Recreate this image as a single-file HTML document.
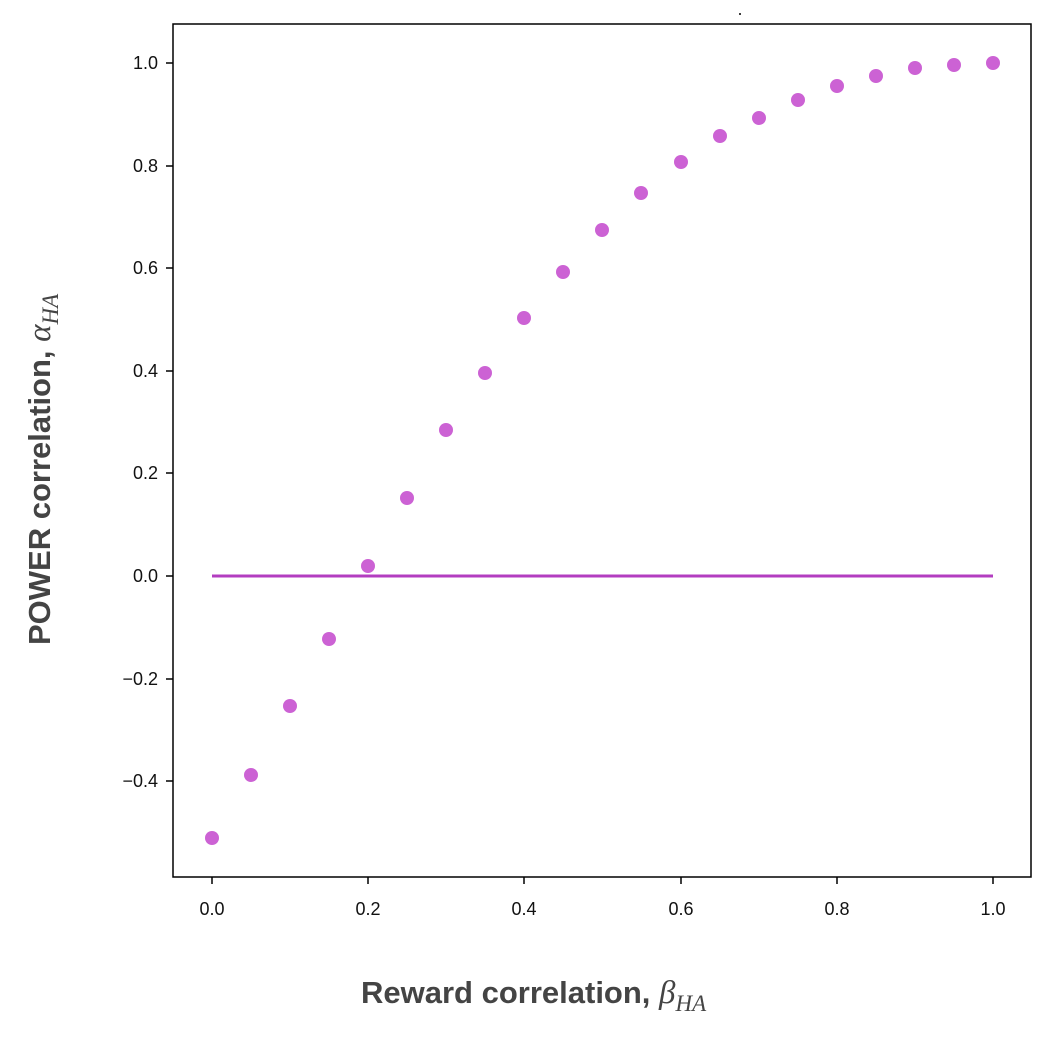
<!DOCTYPE html>
<html><head><meta charset="utf-8"><style>body{margin:0;background:#fff}</style></head><body>
<svg width="1062" height="1032" xmlns="http://www.w3.org/2000/svg" font-family="Liberation Sans, sans-serif">
<rect x="0" y="0" width="1062" height="1032" fill="#fff"/>
<circle cx="740" cy="14" r="1" fill="#000"/>
<rect x="173" y="24" width="858" height="853" fill="none" stroke="#000" stroke-width="1.5"/>
<g stroke="#000" stroke-width="1.5">
<line x1="212" y1="877" x2="212" y2="884"/><line x1="368" y1="877" x2="368" y2="884"/><line x1="524" y1="877" x2="524" y2="884"/><line x1="681" y1="877" x2="681" y2="884"/><line x1="837" y1="877" x2="837" y2="884"/><line x1="993" y1="877" x2="993" y2="884"/>
<line x1="166" y1="63" x2="173" y2="63"/><line x1="166" y1="166" x2="173" y2="166"/><line x1="166" y1="268" x2="173" y2="268"/><line x1="166" y1="371" x2="173" y2="371"/><line x1="166" y1="473" x2="173" y2="473"/><line x1="166" y1="576" x2="173" y2="576"/><line x1="166" y1="679" x2="173" y2="679"/><line x1="166" y1="781" x2="173" y2="781"/>
</g>
<g font-size="18" fill="#111" text-anchor="middle">
<text x="212" y="915">0.0</text><text x="368" y="915">0.2</text><text x="524" y="915">0.4</text><text x="681" y="915">0.6</text><text x="837" y="915">0.8</text><text x="993" y="915">1.0</text>
</g>
<g font-size="18" fill="#111" text-anchor="end">
<text x="158" y="69">1.0</text><text x="158" y="172">0.8</text><text x="158" y="274">0.6</text><text x="158" y="377">0.4</text><text x="158" y="479">0.2</text><text x="158" y="582">0.0</text><text x="158" y="685">−0.2</text><text x="158" y="787">−0.4</text>
</g>
<line x1="212" y1="576" x2="993" y2="576" stroke="#b33dc0" stroke-width="3"/>
<g fill="#cc62d4">
<circle cx="212" cy="838" r="7"/><circle cx="251" cy="775" r="7"/><circle cx="290" cy="706" r="7"/><circle cx="329" cy="639" r="7"/><circle cx="368" cy="566" r="7"/><circle cx="407" cy="498" r="7"/><circle cx="446" cy="430" r="7"/><circle cx="485" cy="373" r="7"/><circle cx="524" cy="318" r="7"/><circle cx="563" cy="272" r="7"/><circle cx="602" cy="230" r="7"/><circle cx="641" cy="193" r="7"/><circle cx="681" cy="162" r="7"/><circle cx="720" cy="136" r="7"/><circle cx="759" cy="118" r="7"/><circle cx="798" cy="100" r="7"/><circle cx="837" cy="86" r="7"/><circle cx="876" cy="76" r="7"/><circle cx="915" cy="68" r="7"/><circle cx="954" cy="65" r="7"/><circle cx="993" cy="63" r="7"/>
</g>
<text x="361" y="1003" font-size="31" font-weight="bold" fill="#444">Reward correlation, <tspan font-family="Liberation Serif, serif" font-style="italic" font-weight="normal" font-size="33">β</tspan><tspan font-family="Liberation Serif, serif" font-style="italic" font-weight="normal" font-size="23" dy="8">HA</tspan></text>
<text transform="translate(50,645) rotate(-90)" font-size="31" font-weight="bold" fill="#444">POWER correlation, <tspan font-family="Liberation Serif, serif" font-style="italic" font-weight="normal" font-size="33">α</tspan><tspan font-family="Liberation Serif, serif" font-style="italic" font-weight="normal" font-size="23" dy="8">HA</tspan></text>
</svg>
</body></html>
